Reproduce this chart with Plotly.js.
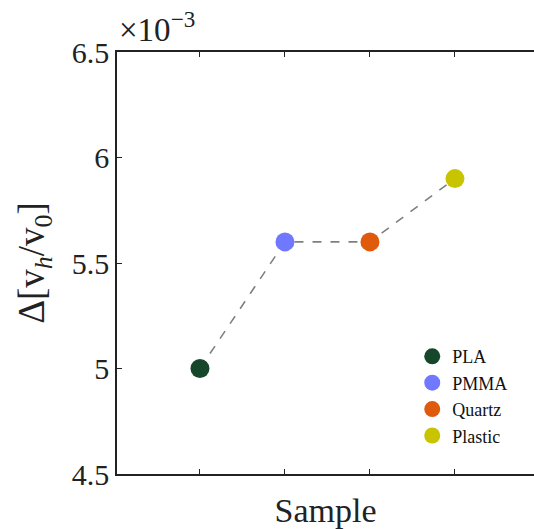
<!DOCTYPE html>
<html><head><meta charset="utf-8">
<script src="https://cdn.plot.ly/plotly-3.0.1.min.js"></script>
<style>body{margin:0;padding:0;background:#fff}</style>
</head><body>
<div id="chart" style="width:534px;height:529px"></div>
<script>
const samples = ["PLA", "PMMA", "Quartz", "Plastic"];
const positions = [1, 2, 3, 4];
const deltaV = [0.0050, 0.0056, 0.0056, 0.0059];
const colors = ["#17472b", "#6f78ff", "#e05a0c", "#c8c400"];
const yTickVals = [0.0045, 0.0050, 0.0055, 0.0060, 0.0065];
const yTickText = ["4.5", "5", "5.5", "6", "6.5"];

const font = "Liberation Serif, Times New Roman, serif";
const traces = [{
  x: positions, y: deltaV, mode: "lines", type: "scatter",
  line: {color: "#808080", width: 1.6, dash: "dash"},
  showlegend: false, hoverinfo: "skip"
}];
samples.forEach((s, i) => {
  traces.push({
    x: [positions[i]], y: [deltaV[i]], mode: "markers", type: "scatter",
    name: s, marker: {color: colors[i], size: 19}
  });
});

const layout = {
  width: 534, height: 529,
  margin: {l: 117, r: 0, t: 52, b: 55},
  paper_bgcolor: "#fff", plot_bgcolor: "#fff",
  font: {family: font, color: "#222"},
  showlegend: true,
  legend: {x: 0.708, y: 0.322, xanchor: "left", yanchor: "top",
    font: {family: font, size: 18, color: "#111"}, bgcolor: "rgba(0,0,0,0)",
    itemsizing: "trace"},
  xaxis: {range: [0.024, 4.93], showgrid: false, zeroline: false,
    tickvals: positions, showticklabels: false, ticks: "inside", ticklen: 5,
    tickcolor: "#222", showline: true, linecolor: "#222", linewidth: 1.5,
    mirror: "ticks",
    title: {text: "Sample", font: {family: font, size: 34, color: "#222"}, standoff: 23}},
  yaxis: {range: [0.0045, 0.0065], showgrid: false, zeroline: false,
    tickvals: yTickVals, ticktext: yTickText, ticks: "inside", ticklen: 5,
    tickcolor: "#222", showline: true, linecolor: "#222", linewidth: 1.5,
    tickfont: {family: font, size: 30, color: "#222"},
    title: {text: "Δ[v<sub><i>h</i></sub>/v<sub>0</sub>]", font: {family: font, size: 37, color: "#222"}, standoff: 16}},
  annotations: [{
    xref: "paper", yref: "paper", x: 0.0, y: 1.0, xanchor: "left", yanchor: "bottom",
    text: "×10<sup>−3</sup>", showarrow: false, yshift: 2,
    font: {family: font, size: 33, color: "#222"}
  }]
};
Plotly.newPlot("chart", traces, layout, {displayModeBar: false, responsive: false});
</script>
</body></html>
